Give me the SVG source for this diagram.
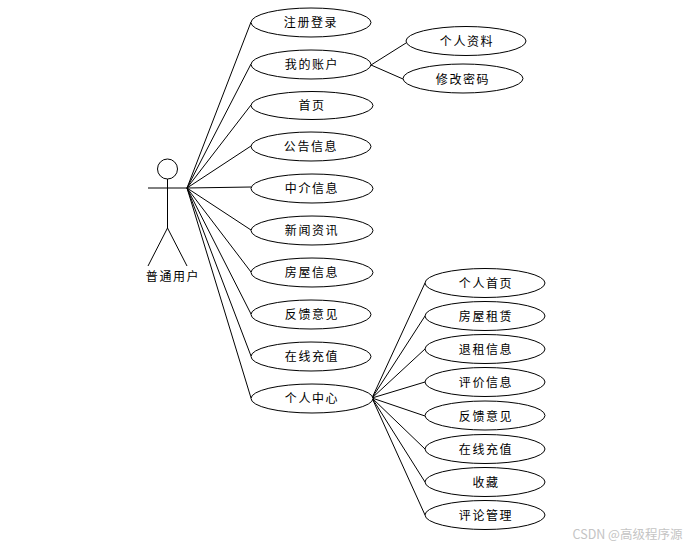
<svg xmlns="http://www.w3.org/2000/svg" width="690" height="548" viewBox="0 0 690 548">
<style>
ellipse,circle,line{fill:none;stroke:#000;stroke-width:1}
ellipse,circle{fill:#fff}
text{font-family:"Noto Sans CJK SC","Liberation Sans",sans-serif;font-size:12px;text-anchor:middle;fill:#000;letter-spacing:1.6px}
.wm{font-size:12.5px;fill:#c4c4c4;letter-spacing:0}
</style>
<rect width="690" height="548" fill="#fff"/>
<g id="connectors">
<line x1="187" y1="188" x2="251" y2="22"/>
<line x1="187" y1="188" x2="251" y2="64"/>
<line x1="187" y1="188" x2="251" y2="105"/>
<line x1="187" y1="188" x2="251" y2="146"/>
<line x1="187" y1="188" x2="251" y2="187"/>
<line x1="187" y1="188" x2="251" y2="230"/>
<line x1="187" y1="188" x2="251" y2="272"/>
<line x1="187" y1="188" x2="251" y2="314"/>
<line x1="187" y1="188" x2="251" y2="356"/>
<line x1="187" y1="188" x2="251" y2="398"/>
<line x1="371" y1="65" x2="406" y2="43"/>
<line x1="371" y1="65" x2="403" y2="79"/>
<line x1="372" y1="398" x2="425" y2="283"/>
<line x1="372" y1="398" x2="425" y2="316"/>
<line x1="372" y1="398" x2="425" y2="349"/>
<line x1="372" y1="398" x2="425" y2="382"/>
<line x1="372" y1="398" x2="425" y2="416"/>
<line x1="372" y1="398" x2="425" y2="449"/>
<line x1="372" y1="398" x2="425" y2="482"/>
<line x1="372" y1="398" x2="425" y2="515"/>
</g>
<g id="actor">
<circle cx="167.500" cy="169" r="10"/>
<line x1="167.500" y1="179" x2="167.500" y2="228"/>
<line x1="148" y1="188" x2="187" y2="188"/>
<line x1="167.500" y1="228" x2="148" y2="266"/>
<line x1="167.500" y1="228" x2="187" y2="266"/>
<text x="173" y="281">普通用户</text>
</g>
<g id="n1"><ellipse cx="311" cy="22.500" rx="60" ry="14.500"/><text x="311" y="27">注册登录</text></g>
<g id="n2"><ellipse cx="311" cy="64.500" rx="60" ry="14.500"/><text x="312" y="69">我的账户</text></g>
<g id="n3"><ellipse cx="312" cy="105.500" rx="61" ry="14"/><text x="312" y="110">首页</text></g>
<g id="n4"><ellipse cx="311" cy="146.500" rx="60" ry="14.500"/><text x="311" y="151">公告信息</text></g>
<g id="n5"><ellipse cx="312" cy="188.500" rx="61" ry="14.500"/><text x="312" y="193">中介信息</text></g>
<g id="n6"><ellipse cx="312" cy="230.500" rx="61" ry="14.500"/><text x="312" y="235">新闻资讯</text></g>
<g id="n7"><ellipse cx="312" cy="272.500" rx="61" ry="14.500"/><text x="312" y="277">房屋信息</text></g>
<g id="n8"><ellipse cx="311" cy="314.500" rx="60" ry="14.500"/><text x="312" y="319">反馈意见</text></g>
<g id="n9"><ellipse cx="311" cy="356.500" rx="60" ry="14.500"/><text x="312" y="361">在线充值</text></g>
<g id="n10"><ellipse cx="312" cy="398.500" rx="61" ry="14.500"/><text x="312" y="403">个人中心</text></g>
<g id="a1"><ellipse cx="466" cy="41" rx="60" ry="14.500"/><text x="467" y="46">个人资料</text></g>
<g id="a2"><ellipse cx="463" cy="78.500" rx="60" ry="14.500"/><text x="463" y="84">修改密码</text></g>
<g id="c1"><ellipse cx="485" cy="283" rx="60" ry="14.500"/><text x="486" y="288">个人首页</text></g>
<g id="c2"><ellipse cx="485" cy="316" rx="60" ry="14.500"/><text x="486" y="321">房屋租赁</text></g>
<g id="c3"><ellipse cx="485" cy="349" rx="60" ry="14.500"/><text x="486" y="354">退租信息</text></g>
<g id="c4"><ellipse cx="485" cy="382" rx="60" ry="14.500"/><text x="486" y="387">评价信息</text></g>
<g id="c5"><ellipse cx="485" cy="415.500" rx="60" ry="14.500"/><text x="486" y="421">反馈意见</text></g>
<g id="c6"><ellipse cx="485" cy="449" rx="60" ry="14.500"/><text x="486" y="454">在线充值</text></g>
<g id="c7"><ellipse cx="485" cy="482" rx="60" ry="14.500"/><text x="486" y="487">收藏</text></g>
<g id="c8"><ellipse cx="485" cy="515" rx="60" ry="14.500"/><text x="486" y="520">评论管理</text></g>
<text class="wm" x="627.500" y="539">CSDN @高级程序源</text>
</svg>
